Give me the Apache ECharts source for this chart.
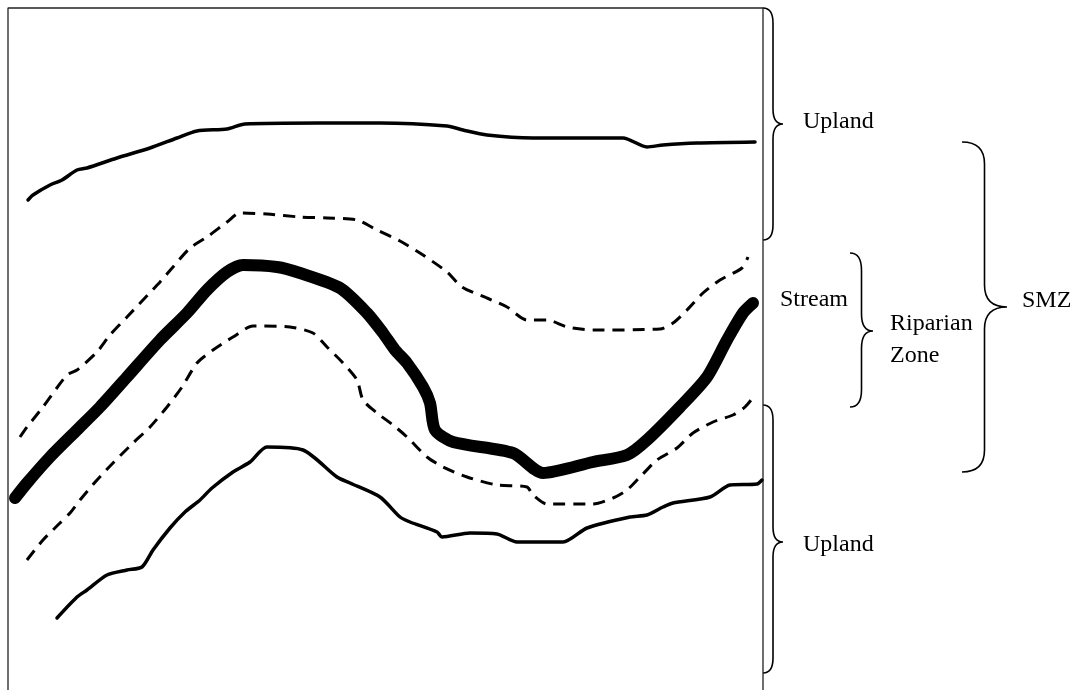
<!DOCTYPE html>
<html>
<head>
<meta charset="utf-8">
<script src="https://cdn.jsdelivr.net/npm/echarts@6/dist/echarts.min.js"></script>
<style>html,body{margin:0;padding:0;background:#fff}#c{width:1086px;height:690px}</style>
</head>
<body>
<div id="c"></div>
<script>
// Diagram coordinate space: x 0..1086, y 0..690 (y downward)
var frameLine = [[8,690],[8,8],[763,8],[763,690]];

var upperUpland = [[28,200],[33,195],[50,185],[62,180],[77,170],[87,168],[117,158],[150,148],[177,138],[197,131],[227,129],[245,124],[320,123],[380,123],[447,126],[463,130],[487,135],[533,138],[623,138],[647,147],[663,145],[697,143],[755,142]];

var upperDashed = [[20,437],[27,427],[43,407],[67,375],[77,370],[97,352],[110,335],[127,317],[143,300],[160,282],[173,267],[190,248],[207,237],[227,222],[240,213],[267,214],[300,217],[327,218],[357,220],[377,230],[400,241],[423,255],[447,272],[462,287],[487,298],[507,307],[527,320],[547,320],[567,327],[593,330],[660,329],[673,323],[687,310],[703,293],[720,280],[742,268],[748,257]];

var streamLine = [[15,498],[27,483],[50,457],[77,430],[100,407],[127,377],[160,340],[187,313],[207,290],[227,272],[243,265],[277,267],[300,273],[340,288],[367,313],[383,333],[395,350],[407,363],[423,387],[430,403],[435,430],[453,442],[513,453],[543,473],[593,462],[627,455],[647,440],[680,407],[707,377],[727,340],[743,313],[753,303]];

var lowerDashed = [[27,560],[43,540],[60,523],[70,513],[80,500],[97,480],[113,463],[133,443],[150,427],[167,407],[182,387],[197,363],[213,350],[233,337],[253,326],[290,327],[313,333],[327,347],[343,363],[357,380],[363,400],[377,413],[393,425],[407,437],[427,457],[443,467],[467,477],[497,485],[527,487],[533,495],[547,504],[593,504],[613,498],[627,490],[640,477],[657,460],[677,448],[693,433],[713,422],[733,415],[745,407],[755,395]];

var lowerUpland = [[57,618],[77,597],[87,590],[107,575],[127,570],[142,567],[153,550],[170,528],[185,512],[200,500],[212,488],[233,472],[250,462],[267,447],[303,450],[337,477],[350,483],[380,497],[400,517],[410,522],[437,532],[442,537],[470,533],[497,534],[517,542],[563,542],[587,528],[630,517],[647,515],[663,507],[673,503],[710,497],[730,485],[757,484],[762,480]];

// Braces: left x, top y, bottom y, tip y, width
var braceLeft   = [763, 850, 962, 763];
var braceTop    = [8, 253, 142, 405];
var braceBottom = [240, 407, 472, 673];
var braceTip    = [124, 331, 307, 542];
var braceWidth  = [20, 23, 45, 20];

// Labels
var labelText = ['Upland', 'Stream', 'Riparian\nZone', 'SMZ', 'Upland'];
var labelX    = [803, 780, 890, 1022, 803];
var labelY    = [122, 300, 340, 301, 545];

var braceData = braceLeft.map(function(v,i){return [v, braceTop[i], braceBottom[i], braceTip[i], braceWidth[i]];});
var labelData = labelText.map(function(t,i){return [labelX[i], labelY[i], t];});

var chart = echarts.init(document.getElementById('c'), null, {renderer:'canvas'});

function lineSeries(data, width, type) {
  return {
    type:'line', data:data, showSymbol:false, smooth:0.25, animation:false,
    lineStyle:{color:'#000', width:width, type:type||'solid', cap:'round', join:'round'},
    silent:true
  };
}

var dashed = [12,8];

chart.setOption({
  animation:false,
  backgroundColor:'#fff',
  grid:{left:0, top:0, width:1086, height:690},
  xAxis:{type:'value', min:0, max:1086, show:false},
  yAxis:{type:'value', min:0, max:690, inverse:true, show:false},
  series:[
    {type:'line', data:frameLine, showSymbol:false, animation:false, silent:true,
     lineStyle:{color:'#222', width:1.3}},
    lineSeries(upperUpland, 3.5),
    Object.assign(lineSeries(upperDashed, 3), {lineStyle:{color:'#000', width:3, type:dashed, cap:'butt'}}),
    lineSeries(streamLine, 12),
    Object.assign(lineSeries(lowerDashed, 3), {lineStyle:{color:'#000', width:3, type:dashed, cap:'butt'}}),
    lineSeries(lowerUpland, 3.5),
    {
      type:'custom', data:braceData, animation:false, silent:true,
      renderItem:function(params, api){
        var p1 = api.coord([api.value(0), api.value(1)]);
        var p2 = api.coord([api.value(0)+api.value(4), api.value(2)]);
        var pt = api.coord([api.value(0), api.value(3)]);
        var x0 = p1[0], y1 = p1[1], y2 = p2[1], xt = p2[0], ym = pt[1];
        var xm = (x0 + xt) / 2;
        var r = Math.min((xt - x0) * 0.75, 22);
        var d = 'M'+x0+' '+y1+' Q'+xm+' '+y1+' '+xm+' '+(y1+r)+
                ' L'+xm+' '+(ym-r)+' Q'+xm+' '+ym+' '+xt+' '+ym+
                ' Q'+xm+' '+ym+' '+xm+' '+(ym+r)+
                ' L'+xm+' '+(y2-r)+' Q'+xm+' '+y2+' '+x0+' '+y2;
        return {type:'path', shape:{pathData:d}, style:{fill:null, stroke:'#000', lineWidth:1.6}};
      }
    },
    {
      type:'custom', data:labelData, animation:false, silent:true,
      renderItem:function(params, api){
        var p = api.coord([api.value(0), api.value(1)]);
        return {type:'text', x:p[0], y:p[1], style:{
          text:labelText[params.dataIndex], fill:'#000', font:'24px "Liberation Serif"',
          align:'left', verticalAlign:'middle', lineHeight:32
        }};
      }
    }
  ]
});
</script>
</body>
</html>
